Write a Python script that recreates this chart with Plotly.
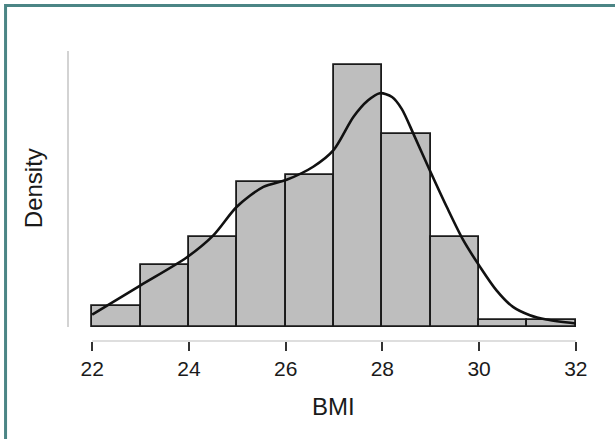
import plotly.graph_objects as go

# Data
bin_edges = [22, 23, 24, 25, 26, 27, 28, 29, 30, 31, 32]
bin_counts = [3, 9, 13, 21, 22, 38, 28, 13, 1, 1]
n_total = sum(bin_counts)
density = [c / (n_total * (bin_edges[i + 1] - bin_edges[i])) for i, c in enumerate(bin_counts)]

kde_x = [22.0, 23.0, 23.96, 24.51, 24.99, 25.54, 26.02, 26.57, 26.99, 27.40, 27.70, 27.95,
         28.20, 28.40, 28.64, 28.98, 29.33, 29.67, 30.02, 30.36, 30.70, 31.05, 31.39, 32.0]
kde_y = [0.0121, 0.0405, 0.0678, 0.0893, 0.1168, 0.1362, 0.1430, 0.1557, 0.1718, 0.2040, 0.2200, 0.2272,
         0.2235, 0.2120, 0.1879, 0.1523, 0.1168, 0.0846, 0.0584, 0.0356, 0.0195, 0.0114, 0.0072, 0.0034]

x_ticks = [22, 24, 26, 28, 30, 32]

centers = [(bin_edges[i] + bin_edges[i + 1]) / 2 for i in range(len(bin_counts))]
widths = [bin_edges[i + 1] - bin_edges[i] for i in range(len(bin_counts))]

fig = go.Figure()
fig.add_trace(go.Bar(
    x=centers, y=density, width=widths,
    marker=dict(color="#bebebe", line=dict(color="#1a1a1a", width=1.8)),
    hoverinfo="skip", showlegend=False,
))
fig.add_trace(go.Scatter(
    x=kde_x, y=kde_y, mode="lines",
    line=dict(color="#111111", width=2.6, shape="spline", smoothing=0.8),
    hoverinfo="skip", showlegend=False,
))

W, H = 615, 439
L, R, T, B = 68, 14.6, 51, 98.3
pw = W - L - R
ph = H - T - B
y_lo, y_hi = -0.01362, 0.2682


def px_to_paper_x(px):
    return (px - L) / pw


def px_to_paper_y(py):
    return (H - B - py) / ph


shapes = [
    # y axis line
    dict(type="line", xref="paper", yref="y", x0=0, x1=0, y0=0, y1=y_hi,
         line=dict(color="#c4c4c4", width=1.5)),
    # x axis line from first to last tick
    dict(type="line", xref="x", yref="paper", x0=bin_edges[0], x1=bin_edges[-1], y0=0, y1=0,
         line=dict(color="#bdbdbd", width=1.2)),
    # teal frame (top & left)
    dict(type="line", xref="paper", yref="paper",
         x0=px_to_paper_x(5.5), x1=px_to_paper_x(620), y0=px_to_paper_y(5.5), y1=px_to_paper_y(5.5),
         line=dict(color="#4b8585", width=3)),
    dict(type="line", xref="paper", yref="paper",
         x0=px_to_paper_x(5.5), x1=px_to_paper_x(5.5), y0=px_to_paper_y(4), y1=px_to_paper_y(445),
         line=dict(color="#4b8585", width=3)),
]

annotations = [
    dict(text="Density", xref="paper", yref="paper", x=px_to_paper_x(33), y=px_to_paper_y(188),
         textangle=-90, showarrow=False, xanchor="center", yanchor="middle",
         font=dict(size=24, color="#1a1a1a", family="Liberation Sans, Arial")),
    dict(text="BMI", xref="paper", yref="paper", x=px_to_paper_x(334), y=px_to_paper_y(406),
         showarrow=False, xanchor="center", yanchor="middle",
         font=dict(size=24, color="#1a1a1a", family="Liberation Sans, Arial")),
]

fig.update_layout(
    width=W, height=H,
    margin=dict(l=L, r=R, t=T, b=B, pad=0),
    paper_bgcolor="white", plot_bgcolor="white",
    bargap=0,
    shapes=shapes,
    annotations=annotations,
    font=dict(family="Liberation Sans, Arial", color="#1a1a1a"),
    xaxis=dict(range=[21.5, 32.5], tickvals=x_ticks, ticks="outside", ticklen=9, tickwidth=1.6,
               tickcolor="#333333", showgrid=False, zeroline=False, showline=False,
               tickfont=dict(size=21, color="#1a1a1a")),
    yaxis=dict(range=[y_lo, y_hi], showticklabels=False, ticks="", showgrid=False,
               zeroline=False, showline=False),
)

fig.write_html("out.html")
